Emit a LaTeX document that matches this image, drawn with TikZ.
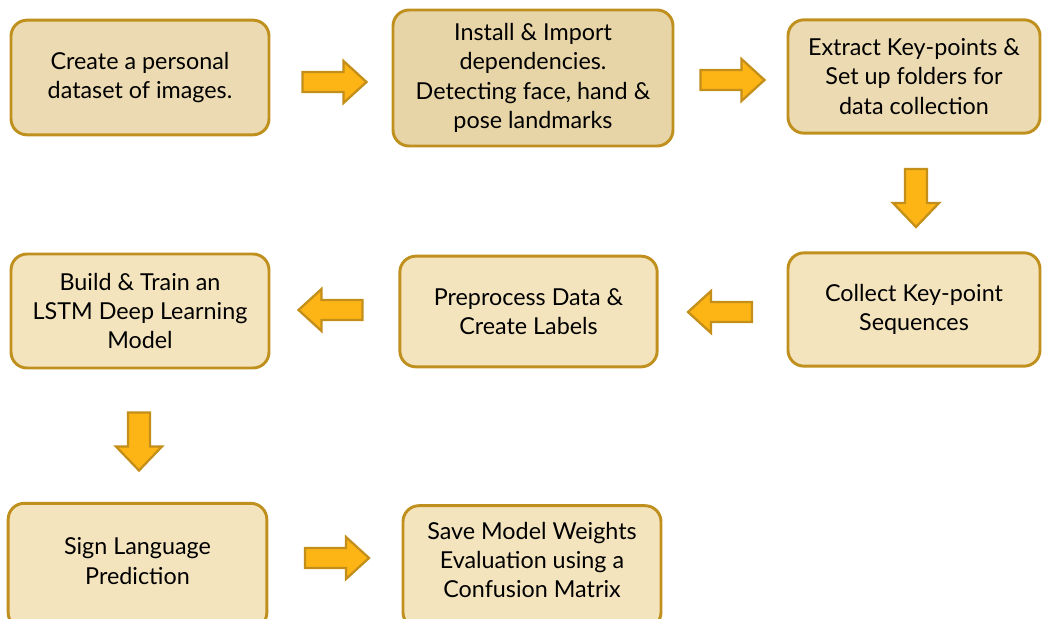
\documentclass[tikz,border=0pt]{standalone}
\usepackage{fontspec}
\setmainfont{Lato}
\definecolor{boxfillA}{RGB}{236,219,178}
\definecolor{boxfillB}{RGB}{231,213,168}
\definecolor{boxfillC}{RGB}{244,228,190}
\definecolor{boxline}{RGB}{192,144,30}
\definecolor{arrfill}{RGB}{253,181,21}
\definecolor{arrline}{RGB}{195,142,26}
\tikzset{
  stepbox/.style={draw=boxline, line width=2.2pt, rounded corners=12pt, align=center,
    inner sep=0pt, font=\fontsize{17.5}{22}\selectfont, text=black},
  blockarrow/.style={draw=arrline, fill=arrfill, line width=1.7pt, line join=miter},
  lbl/.style={align=center, inner sep=0pt, font=\fontsize{17.5}{22}\selectfont, text=black}
}
% block arrows centred at (#1,#2), named #3
\newcommand\arrR[3]{\coordinate (#3) at (#1,#2);
  \draw[blockarrow,shift={(#3)}] (-32,-10) -- (9,-10) -- (9,-21) -- (32,0) -- (9,21) -- (9,10) -- (-32,10) -- cycle;}
\newcommand\arrL[3]{\coordinate (#3) at (#1,#2);
  \draw[blockarrow,shift={(#3)}] (32,-10) -- (-9,-10) -- (-9,-21) -- (-32,0) -- (-9,21) -- (-9,10) -- (32,10) -- cycle;}
\newcommand\arrD[3]{\coordinate (#3) at (#1,#2);
  \draw[blockarrow,shift={(#3)}] (-11,-29) -- (-11,5) -- (-23,5) -- (0,29) -- (23,5) -- (11,5) -- (11,-29) -- cycle;}
\begin{document}
\begin{tikzpicture}[x=0.75pt,y=-0.75pt]
\useasboundingbox (0,0) rectangle (1042,618);
% row 1
\node[stepbox, fill=boxfillA, minimum width=193.5pt, minimum height=86pt] (b1) at (140,77.5)
  {Create a personal\\dataset of images.};
\node[stepbox, fill=boxfillB, minimum width=210pt, minimum height=102pt] (b2) at (533,78)
  {Install \& Import\\dependencies.\\Detecting face, hand \&\\pose landmarks};
\node[stepbox, fill=boxfillA, minimum width=189pt, minimum height=85pt] (b3) at (914,76.5)
  {Extract Key-points \&\\Set up folders for\\data collection};
% row 2
\node[stepbox, fill=boxfillC, minimum width=189pt, minimum height=85pt] (b4) at (914,309.5)
  {Collect Key-point\\Sequences};
\node[stepbox, fill=boxfillC, minimum width=193pt, minimum height=83pt] (b5) at (528.5,311.5)
  {Preprocess Data \&\\Create Labels};
\node[stepbox, fill=boxfillC, minimum width=193.5pt, minimum height=85.5pt] (b6) at (140,311)
  {Build \& Train an\\LSTM Deep Learning\\Model};
% row 3 (cut at bottom)
\node[stepbox, fill=boxfillC, minimum width=194pt, minimum height=94pt] (b7) at (137.5,566) {};
\node[lbl] (t7) at (137.5,561) {Sign Language\\Prediction};
\node[stepbox, fill=boxfillC, minimum width=193.5pt, minimum height=92pt] (b8) at (532,567) {};
\node[lbl] (t8) at (532,560) {Save Model Weights\\Evaluation using a\\Confusion Matrix};
% block arrows
\arrR{334.5}{82}{a1}
\arrR{732.5}{80}{a2}
\arrD{916}{198}{a3}
\arrL{720}{312}{a4}
\arrL{330.5}{310}{a5}
\arrD{139}{441.5}{a6}
\arrR{337}{558}{a7}
\end{tikzpicture}
\end{document}
